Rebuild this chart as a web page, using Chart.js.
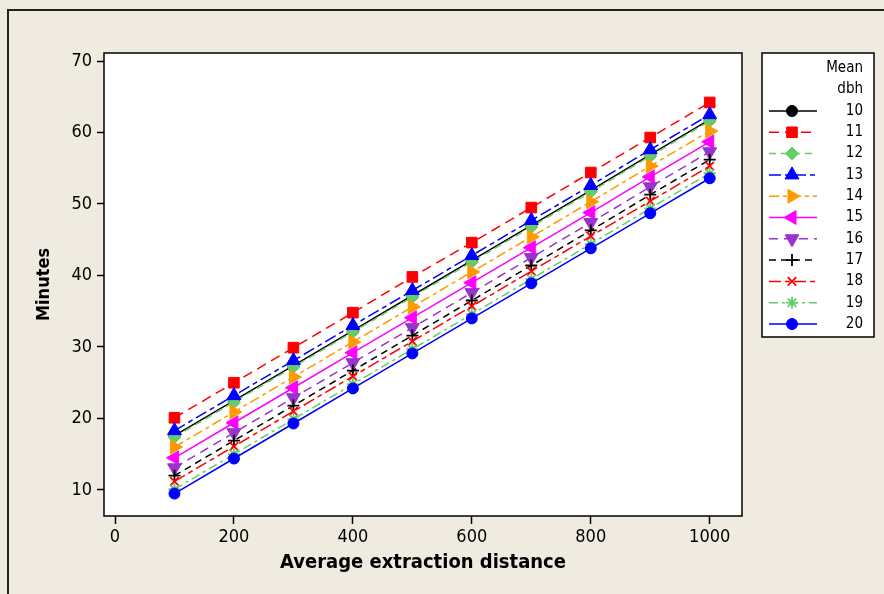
<!DOCTYPE html>
<html>
<head>
<meta charset="utf-8">
<script src="https://cdn.jsdelivr.net/npm/chart.js@4.4.1/dist/chart.umd.min.js"></script>
<style>
  html, body { margin: 0; padding: 0; background: #EFEBE1; }
  #wrap { width: 884px; height: 594px; }
</style>
</head>
<body>
<div id="wrap"><canvas id="chart" width="884" height="594"></canvas></div>
<script>
// data
const distances = [100, 200, 300, 400, 500, 600, 700, 800, 900, 1000];
const xTicks = [0, 200, 400, 600, 800, 1000];
const yTicks = [10, 20, 30, 40, 50, 60, 70];
const dbhLabels = ['10', '11', '12', '13', '14', '15', '16', '17', '18', '19', '20'];

const dbh10 = [17.6, 22.5, 27.4, 32.3, 37.2, 42.1, 47.0, 51.9, 56.9, 61.8];
const dbh11 = [20.1, 25.0, 29.9, 34.8, 39.8, 44.6, 49.5, 54.4, 59.3, 64.2];
const dbh12 = [17.4, 22.3, 27.2, 32.1, 37.0, 41.9, 46.8, 51.7, 56.7, 61.6];
const dbh13 = [18.3, 23.2, 28.1, 33.0, 37.9, 42.8, 47.7, 52.6, 57.6, 62.5];
const dbh14 = [16.0, 20.9, 25.8, 30.7, 35.6, 40.5, 45.4, 50.3, 55.3, 60.2];
const dbh15 = [14.5, 19.4, 24.3, 29.2, 34.1, 39.0, 43.9, 48.8, 53.8, 58.7];
const dbh16 = [13.1, 18.0, 22.9, 27.8, 32.7, 37.6, 42.5, 47.4, 52.4, 57.3];
const dbh17 = [12.0, 16.9, 21.8, 26.7, 31.6, 36.5, 41.4, 46.3, 51.3, 56.2];
const dbh18 = [11.2, 16.1, 21.0, 25.9, 30.8, 35.7, 40.6, 45.5, 50.4, 55.3];
const dbh19 = [10.1, 15.0, 19.9, 24.8, 29.7, 34.6, 39.5, 44.4, 49.4, 54.3];
const dbh20 = [9.5, 14.4, 19.3, 24.2, 29.1, 34.0, 38.9, 43.8, 48.7, 53.6];

const allSeries = [dbh10, dbh11, dbh12, dbh13, dbh14, dbh15, dbh16, dbh17, dbh18, dbh19, dbh20];

// look of each series (Minitab-like symbols)
const styles = [
  { color: '#000000', dash: [],            point: 'circle',   rot: 0,   r: 5.5 },
  { color: '#FF0000', dash: [10, 6],       point: 'rect',     rot: 0,   r: 7.5 },
  { color: '#66CC66', dash: [7, 5],        point: 'rectRot',  rot: 0,   r: 6.5 },
  { color: '#0000FF', dash: [12, 4, 5, 4], point: 'triangle', rot: 0,   r: 8 },
  { color: '#FF9900', dash: [10, 4, 4, 4], point: 'triangle', rot: 90,  r: 8 },
  { color: '#FF00FF', dash: [],            point: 'triangle', rot: -90, r: 8 },
  { color: '#9933CC', dash: [9, 6],        point: 'triangle', rot: 180, r: 8 },
  { color: '#000000', dash: [7, 5],        point: 'cross',    rot: 0,   r: 6 },
  { color: '#FF0000', dash: [12, 4, 5, 4], point: 'crossRot', rot: 0,   r: 6 },
  { color: '#66CC66', dash: [9, 4, 3, 4],  point: 'star',     rot: 0,   r: 6 },
  { color: '#0000FF', dash: [],            point: 'circle',   rot: 0,   r: 5.5 }
];

const FONT = '"DejaVu Sans Condensed", "DejaVu Sans", sans-serif';

const datasets = allSeries.map((vals, i) => ({
  label: dbhLabels[i],
  data: vals.map((v, k) => ({ x: distances[k], y: v })),
  borderColor: styles[i].color,
  backgroundColor: styles[i].color,
  borderWidth: 1.5,
  borderDash: styles[i].dash,
  pointStyle: styles[i].point,
  pointRotation: styles[i].rot,
  pointRadius: styles[i].r,
  pointBorderWidth: ['cross', 'crossRot', 'star'].includes(styles[i].point) ? 1.8 : 1,
  pointBackgroundColor: styles[i].color,
  pointBorderColor: styles[i].color,
  tension: 0,
  order: allSeries.length - i   // later series drawn on top
}));

// background, frame, plot box and legend
const decor = {
  id: 'decor',
  beforeDraw(chart) {
    const ctx = chart.ctx;
    const a = chart.chartArea;
    ctx.save();
    ctx.fillStyle = '#EFEBE1';
    ctx.fillRect(0, 0, chart.width, chart.height);
    ctx.strokeStyle = '#222';
    ctx.lineWidth = 2;
    ctx.strokeRect(8, 10, chart.width + 20, chart.height + 20);
    ctx.fillStyle = '#FFFFFF';
    ctx.fillRect(a.left, a.top, a.right - a.left, a.bottom - a.top);
    ctx.restore();
  },
  afterDraw(chart) {
    const ctx = chart.ctx;
    const a = chart.chartArea;
    ctx.save();
    ctx.strokeStyle = '#000';
    ctx.lineWidth = 1.5;
    ctx.strokeRect(a.left, a.top, a.right - a.left, a.bottom - a.top);

    // legend box
    const lx = 762, ly = 53, lw = 112, lh = 284;
    ctx.fillStyle = '#FFFFFF';
    ctx.fillRect(lx, ly, lw, lh);
    ctx.strokeStyle = '#000';
    ctx.lineWidth = 1.5;
    ctx.strokeRect(lx, ly, lw, lh);

    ctx.fillStyle = '#000';
    ctx.font = '15px ' + FONT;
    ctx.textAlign = 'right';
    ctx.textBaseline = 'middle';
    ctx.fillText('Mean', 863, 68);
    ctx.fillText('dbh', 863, 89);

    chart.data.datasets.forEach((ds, i) => {
      const y = 111 + i * 21.3;
      ctx.save();
      ctx.strokeStyle = ds.borderColor;
      ctx.lineWidth = 1.5;
      ctx.setLineDash(ds.borderDash);
      ctx.beginPath();
      ctx.moveTo(769, y);
      ctx.lineTo(817, y);
      ctx.stroke();
      ctx.setLineDash([]);
      ctx.fillStyle = ds.pointBackgroundColor;
      ctx.strokeStyle = ds.pointBorderColor;
      ctx.lineWidth = ds.pointBorderWidth;
      Chart.helpers.drawPoint(ctx, {
        pointStyle: ds.pointStyle,
        rotation: ds.pointRotation,
        radius: ds.pointRadius,
        borderWidth: ds.pointBorderWidth
      }, 792, y);
      ctx.restore();
      ctx.fillStyle = '#000';
      ctx.fillText(ds.label, 863, y);
    });
    ctx.restore();
  }
};

new Chart(document.getElementById('chart'), {
  type: 'line',
  data: { datasets: datasets },
  options: {
    responsive: false,
    animation: false,
    layout: { padding: { left: 0, top: 53, right: 142, bottom: 0 } },
    plugins: { legend: { display: false }, tooltip: { enabled: false } },
    scales: {
      x: {
        type: 'linear',
        min: -18.5,
        max: 1054.3,
        afterBuildTicks: (s) => { s.ticks = xTicks.map(v => ({ value: v })); },
        afterFit: (s) => { s.height = 78; },
        grid: { drawOnChartArea: false, drawTicks: true, tickLength: 8, tickColor: '#000', tickWidth: 1.5 },
        border: { display: false },
        ticks: {
          color: '#000', font: { family: FONT, size: 18 }, padding: 3, maxRotation: 0,
          callback: (v) => String(v)
        },
        title: {
          display: true, text: 'Average extraction distance', color: '#000',
          font: { family: FONT, size: 20, weight: 'bold' }, padding: { top: 0, bottom: 19 }
        }
      },
      y: {
        type: 'linear',
        min: 6.36,
        max: 71.12,
        afterBuildTicks: (s) => { s.ticks = yTicks.map(v => ({ value: v })); },
        afterFit: (s) => { s.width = 104; },
        grid: { drawOnChartArea: false, drawTicks: true, tickLength: 7, tickColor: '#000', tickWidth: 1.5 },
        border: { display: false },
        ticks: { color: '#000', font: { family: FONT, size: 18 }, padding: 5, callback: (v) => String(v) },
        title: {
          display: true, text: 'Minutes', color: '#000',
          font: { family: FONT, size: 18, weight: 'bold' }, padding: { top: 34, bottom: 0 }
        }
      }
    }
  },
  plugins: [decor]
});
</script>
</body>
</html>
